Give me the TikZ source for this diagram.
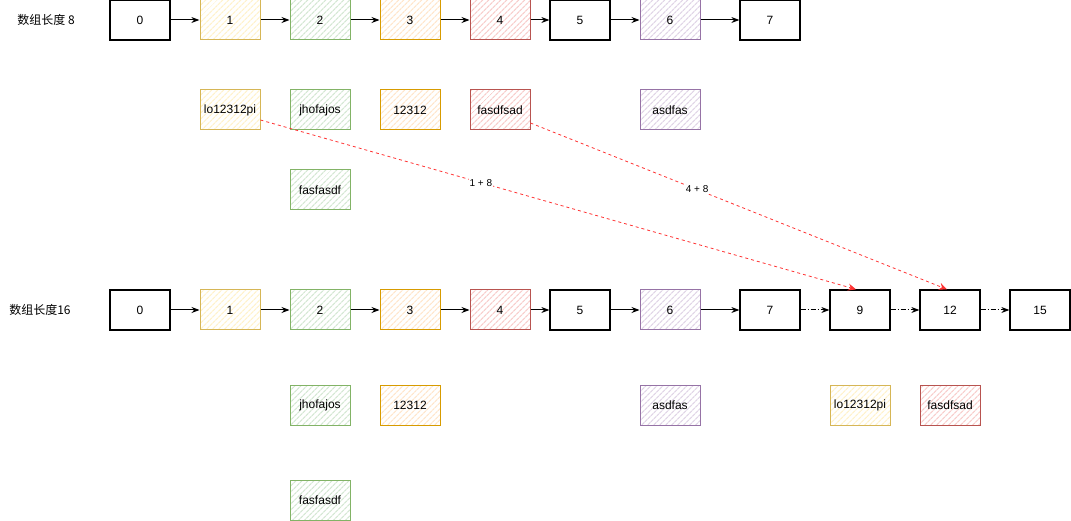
\documentclass[tikz,border=0pt]{standalone}
\usepackage{fontspec}
\setmainfont{Liberation Sans}
\newfontfamily\cjk{Noto Sans CJK SC}
\usetikzlibrary{arrows.meta,patterns.meta}
\definecolor{yS}{HTML}{D6B656}\definecolor{yF}{HTML}{FFF2CC}
\definecolor{oS}{HTML}{D79B00}\definecolor{oF}{HTML}{FFE6CC}
\definecolor{gS}{HTML}{82B366}\definecolor{gF}{HTML}{D5E8D4}
\definecolor{rS}{HTML}{B85450}\definecolor{rF}{HTML}{F8CECC}
\definecolor{pS}{HTML}{9673A6}\definecolor{pF}{HTML}{E1D5E7}
\definecolor{redline}{HTML}{FF3333}
\tikzset{
  cell/.style={draw=black,line width=1.3pt,minimum width=60pt,minimum height=40pt,inner sep=0pt,font=\fontsize{12}{14}\selectfont},
  hatch/.style 2 args={cell,draw=#1,line width=1pt,pattern={Lines[angle=45,distance=4pt,line width=1.3pt]},pattern color=#2},
  ycell/.style={hatch={yS}{yF}},
  ocell/.style={hatch={oS}{oF}},
  gcell/.style={hatch={gS}{gF}},
  rcell/.style={hatch={rS}{rF}},
  pcell/.style={hatch={pS}{pF}},
  link/.style={-{Stealth[length=8pt,width=6pt]},line width=1pt},
  dlink/.style={link,dash pattern=on 5pt off 2pt on 1pt off 2pt},
  move/.style={-{Stealth[length=8pt,width=7pt]},draw=redline,line width=0.8pt,dash pattern=on 3pt off 3pt},
  lbl/.style={font=\fontsize{10}{12}\selectfont,fill=white,inner sep=1pt},
  title/.style={font=\cjk\fontsize{12}{14}\selectfont,inner sep=0pt}
}
\begin{document}
\begin{tikzpicture}[x=1pt,y=-1pt]
\useasboundingbox (0,0) rectangle (1071,521);
% top array
\node[title] (t8) at (46,20) {数组长度 8};
\node[cell]  (a0) at (140,20) {0};
\node[ycell] (a1) at (230,20) {1};
\node[gcell] (a2) at (320,20) {2};
\node[ocell] (a3) at (410,20) {3};
\node[rcell] (a4) at (500,20) {4};
\node[cell]  (a5) at (580,20) {5};
\node[pcell] (a6) at (670,20) {6};
\node[cell]  (a7) at (770,20) {7};
\foreach \i/\j in {a0/a1,a1/a2,a2/a3,a3/a4,a4/a5,a5/a6,a6/a7}{\draw[link] (\i) -- (\j);}
\node[ycell] (v1) at (230,110) {lo12312pi};
\node[gcell] (v2) at (320,110) {jhofajos};
\node[ocell] (v3) at (410,110) {12312};
\node[rcell] (v4) at (500,110) {fasdfsad};
\node[pcell] (v6) at (670,110) {asdfas};
\node[gcell] (v2b) at (320,190) {fasfasdf};
% bottom array
\node[title] (t16) at (40,310) {数组长度16};
\node[cell]  (b0) at (140,310) {0};
\node[ycell] (b1) at (230,310) {1};
\node[gcell] (b2) at (320,310) {2};
\node[ocell] (b3) at (410,310) {3};
\node[rcell] (b4) at (500,310) {4};
\node[cell]  (b5) at (580,310) {5};
\node[pcell] (b6) at (670,310) {6};
\node[cell]  (b7) at (770,310) {7};
\node[cell]  (b9) at (860,310) {9};
\node[cell]  (b12) at (950,310) {12};
\node[cell]  (b15) at (1040,310) {15};
\foreach \i/\j in {b0/b1,b1/b2,b2/b3,b3/b4,b4/b5,b5/b6,b6/b7}{\draw[link] (\i) -- (\j);}
\foreach \i/\j in {b7/b9,b9/b12,b12/b15}{\draw[dlink] (\i) -- (\j);}
\node[gcell] (w2) at (320,405) {jhofajos};
\node[ocell] (w3) at (410,405) {12312};
\node[pcell] (w6) at (670,405) {asdfas};
\node[ycell] (w9) at (860,405) {lo12312pi};
\node[rcell] (w12) at (950,405) {fasdfsad};
\node[gcell] (w2b) at (320,500) {fasfasdf};
% rehash moves
\draw[move] ([yshift=-10pt]v1.east) -- node[lbl,pos=0.37]{1 + 8} ([xshift=-4pt]b9.north);
\draw[move] ([yshift=-13pt]v4.east) -- node[lbl,pos=0.40]{4 + 8} ([xshift=-3pt]b12.north);
\end{tikzpicture}
\end{document}
